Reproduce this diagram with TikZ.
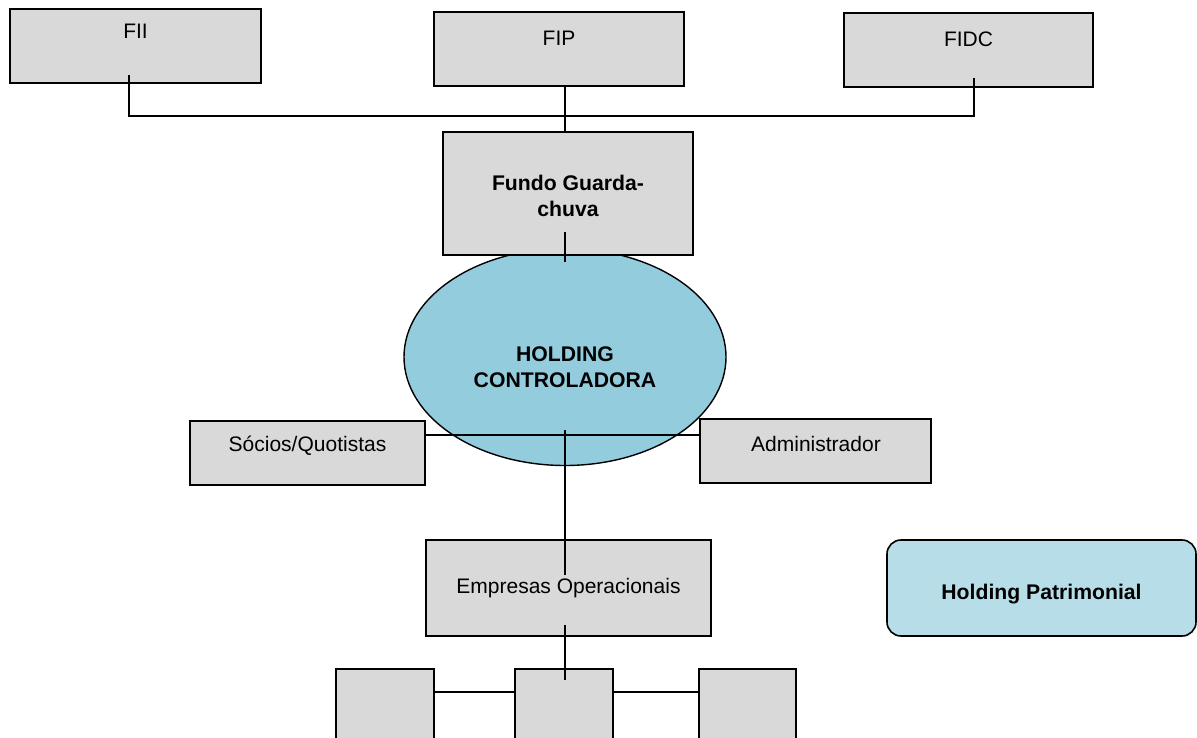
\documentclass[tikz,border=0pt]{standalone}
\usepackage{fontspec}
\setmainfont{Liberation Sans}
\usetikzlibrary{shapes.geometric}
\definecolor{boxgray}{HTML}{D9D9D9}
\definecolor{ellblue}{HTML}{93CDDD}
\definecolor{patblue}{HTML}{B7DEE8}
\begin{document}
\begin{tikzpicture}[x=1pt,y=-1pt,
  box/.style={draw=black,line width=1.6pt,fill=boxgray,inner sep=0pt,anchor=center},
  txt/.style={inner sep=0pt,font=\fontsize{21}{26}\selectfont,align=center},
  btxt/.style={txt,font=\fontsize{21.2}{26}\selectfont\bfseries},
  conn/.style={draw=black,line width=1.6pt}]
\useasboundingbox (0,0) rectangle (1197,738);
\clip (0,0) rectangle (1197,738);
\fill[white] (0,0) rectangle (1197,738);
% ellipse first (behind boxes)
\node[ellipse,draw=black,line width=1.4pt,fill=ellblue,minimum width=322pt,minimum height=217pt,inner sep=0pt] (holding) at (565,357) {};
% boxes
\node[box,minimum width=251pt,minimum height=74pt] (fii) at (135.5,46) {};
\node[box,minimum width=250pt,minimum height=74pt] (fip) at (559,49) {};
\node[box,minimum width=249pt,minimum height=74pt] (fidc) at (968.5,50) {};
\node[box,minimum width=250pt,minimum height=123pt] (fundo) at (568,193.5) {};
\node[box,minimum width=235pt,minimum height=64pt] (socios) at (307.5,453) {};
\node[box,minimum width=231pt,minimum height=64pt] (admin) at (815.5,451) {};
\node[box,minimum width=285pt,minimum height=96pt] (empresas) at (568.5,588) {};
\node[box,minimum width=98pt,minimum height=140pt] (b1) at (385,739) {};
\node[box,minimum width=98pt,minimum height=140pt] (b2) at (564,739) {};
\node[box,minimum width=97pt,minimum height=140pt] (b3) at (747.5,739) {};
\node[box,fill=patblue,rounded corners=14pt,minimum width=309pt,minimum height=96pt] (patrimonial) at (1041.5,588) {};
% texts
\node[txt] (tfii) at (135.5,31.5) {FII};
\node[txt] (tfip) at (559,38.5) {FIP};
\node[txt] (tfidc) at (968.5,39.5) {FIDC};
\node[btxt] (tfundo) at (568,195.5) {Fundo Guarda-\\chuva};
\node[btxt] (tholding) at (565,367.5) {HOLDING\\CONTROLADORA};
\node[txt] (tsocios) at (307.5,445.5) {Sócios/Quotistas};
\node[txt] (tadmin) at (816,443.5) {Administrador};
\node[txt] (tempresas) at (568.5,588.5) {Empresas Operacionais};
\node[btxt] (tpat) at (1041.5,594.5) {Holding Patrimonial};
% connector coordinates
\coordinate (fiiIn) at (129,75);
\coordinate (fidcIn) at (974,78);
\coordinate (bus) at (565,116);
\coordinate (fipOut) at (565,86);
\coordinate (fundoIn) at (565,132);
\coordinate (fundoOut) at (565,232);
\coordinate (holdIn) at (565,262);
\coordinate (holdOut) at (565,430);
\coordinate (empIn) at (565,575);
\coordinate (empOut) at (565,625);
\coordinate (b2In) at (565,680);
\coordinate (socR) at (425,435);
\coordinate (admL) at (700,435);
\coordinate (b1R) at (434,692);
\coordinate (b2L) at (515,692);
\coordinate (b2R) at (613,692);
\coordinate (b3L) at (699,692);
% connectors
\draw[conn] (fiiIn) |- (bus) -| (fidcIn);
\draw[conn] (fipOut) -- (fundoIn);
\draw[conn] (fundoOut) -- (holdIn);
\draw[conn] (socR) -- (admL);
\draw[conn] (holdOut) -- (empIn);
\draw[conn] (empOut) -- (b2In);
\draw[conn] (b1R) -- (b2L);
\draw[conn] (b2R) -- (b3L);
\end{tikzpicture}
\end{document}
